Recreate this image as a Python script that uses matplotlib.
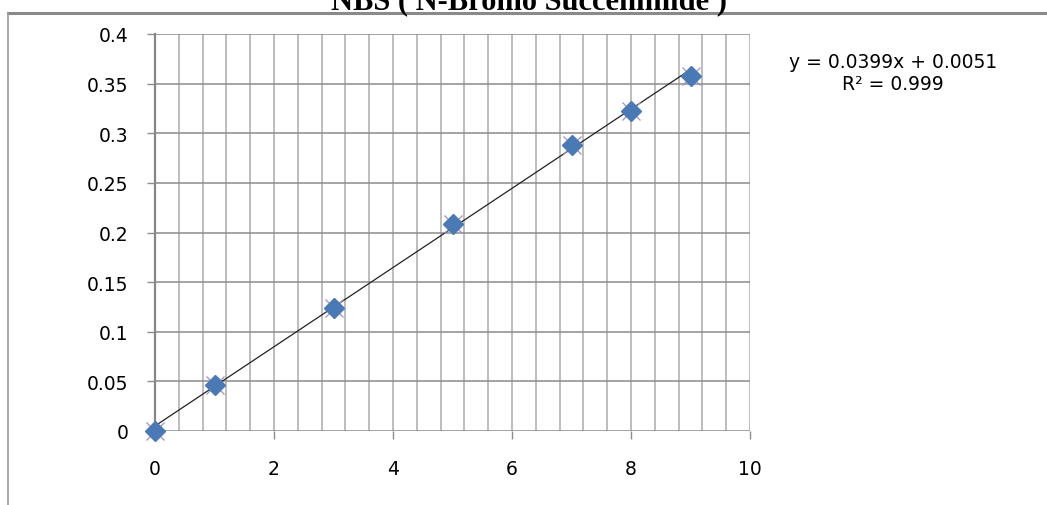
import numpy as np
import matplotlib
matplotlib.use("Agg")
import matplotlib.pyplot as plt
from matplotlib.ticker import MultipleLocator, FuncFormatter

# Data
x_vals = [0, 1, 3, 5, 7, 8, 9]
y_vals = [0.0, 0.046, 0.124, 0.209, 0.288, 0.322, 0.358]
slope = 0.0399
intercept = 0.0051
title = "NBS ( N-Bromo Succenimide )"
eq_text = "y = 0.0399x + 0.0051"
r2_text = "R² = 0.999"

fig = plt.figure(figsize=(10.47, 5.06), dpi=100)
ax = fig.add_axes([155/1047, 74/506, 595/1047, 397/506])

# Outer chart border (top line and left line)
fig.add_artist(plt.Line2D([8/1047, 1.0], [1 - 14/506, 1 - 14/506], transform=fig.transFigure,
                          color="#8a8a8a", lw=2.2))
fig.add_artist(plt.Line2D([8/1047, 8/1047], [0, 1 - 14/506], transform=fig.transFigure,
                          color="#9a9a9a", lw=1.2))

ax.set_xlim(0, 10)
ax.set_ylim(0, 0.4)
ax.xaxis.set_major_locator(MultipleLocator(2))
ax.xaxis.set_minor_locator(MultipleLocator(0.4))
ax.yaxis.set_major_locator(MultipleLocator(0.05))

def yfmt(v, pos):
    s = f"{v:.2f}".rstrip("0").rstrip(".")
    return s
ax.yaxis.set_major_formatter(FuncFormatter(yfmt))

ax.grid(True, axis="x", which="both", color="#b8b8b8", lw=1.3)
ax.grid(True, axis="y", which="major", color="#8c8c8c", lw=1.1)
ax.set_axisbelow(True)

for s in ["top", "right", "bottom"]:
    ax.spines[s].set_visible(False)
ax.spines["left"].set_color("#868686")
ax.spines["left"].set_linewidth(1.6)

ax.tick_params(axis="x", which="major", length=5.5, width=1, color="#8c8c8c",
               pad=15, labelsize=13.5)
ax.tick_params(axis="x", which="minor", length=0)
ax.tick_params(axis="y", which="major", length=6, width=1, color="#8c8c8c",
               pad=13, labelsize=13.5)

# Trendline
xt = np.array([min(x_vals), max(x_vals)])
ax.plot(xt, slope * xt + intercept, color="#222222", lw=0.9, zorder=3, clip_on=False)

# Markers
ax.plot(x_vals, y_vals, linestyle="none", marker="x", ms=13, mew=0.9,
        color="#a08fc8", zorder=4, clip_on=False)
ax.plot(x_vals, y_vals, linestyle="none", marker="D", ms=10,
        color="#4a7ab5", mec="#4a7ab5", zorder=5, clip_on=False)

fig.text(529/1047, 1 - 9/506, title, ha="center", va="baseline",
         fontsize=22, fontweight="bold", family="Liberation Serif")
fig.text(893/1047, 1 - 62/506, eq_text, ha="center", va="center", fontsize=13.5)
fig.text(893/1047, 1 - 85/506, r2_text, ha="center", va="center", fontsize=13.5)

fig.savefig("out.png", dpi=100)
